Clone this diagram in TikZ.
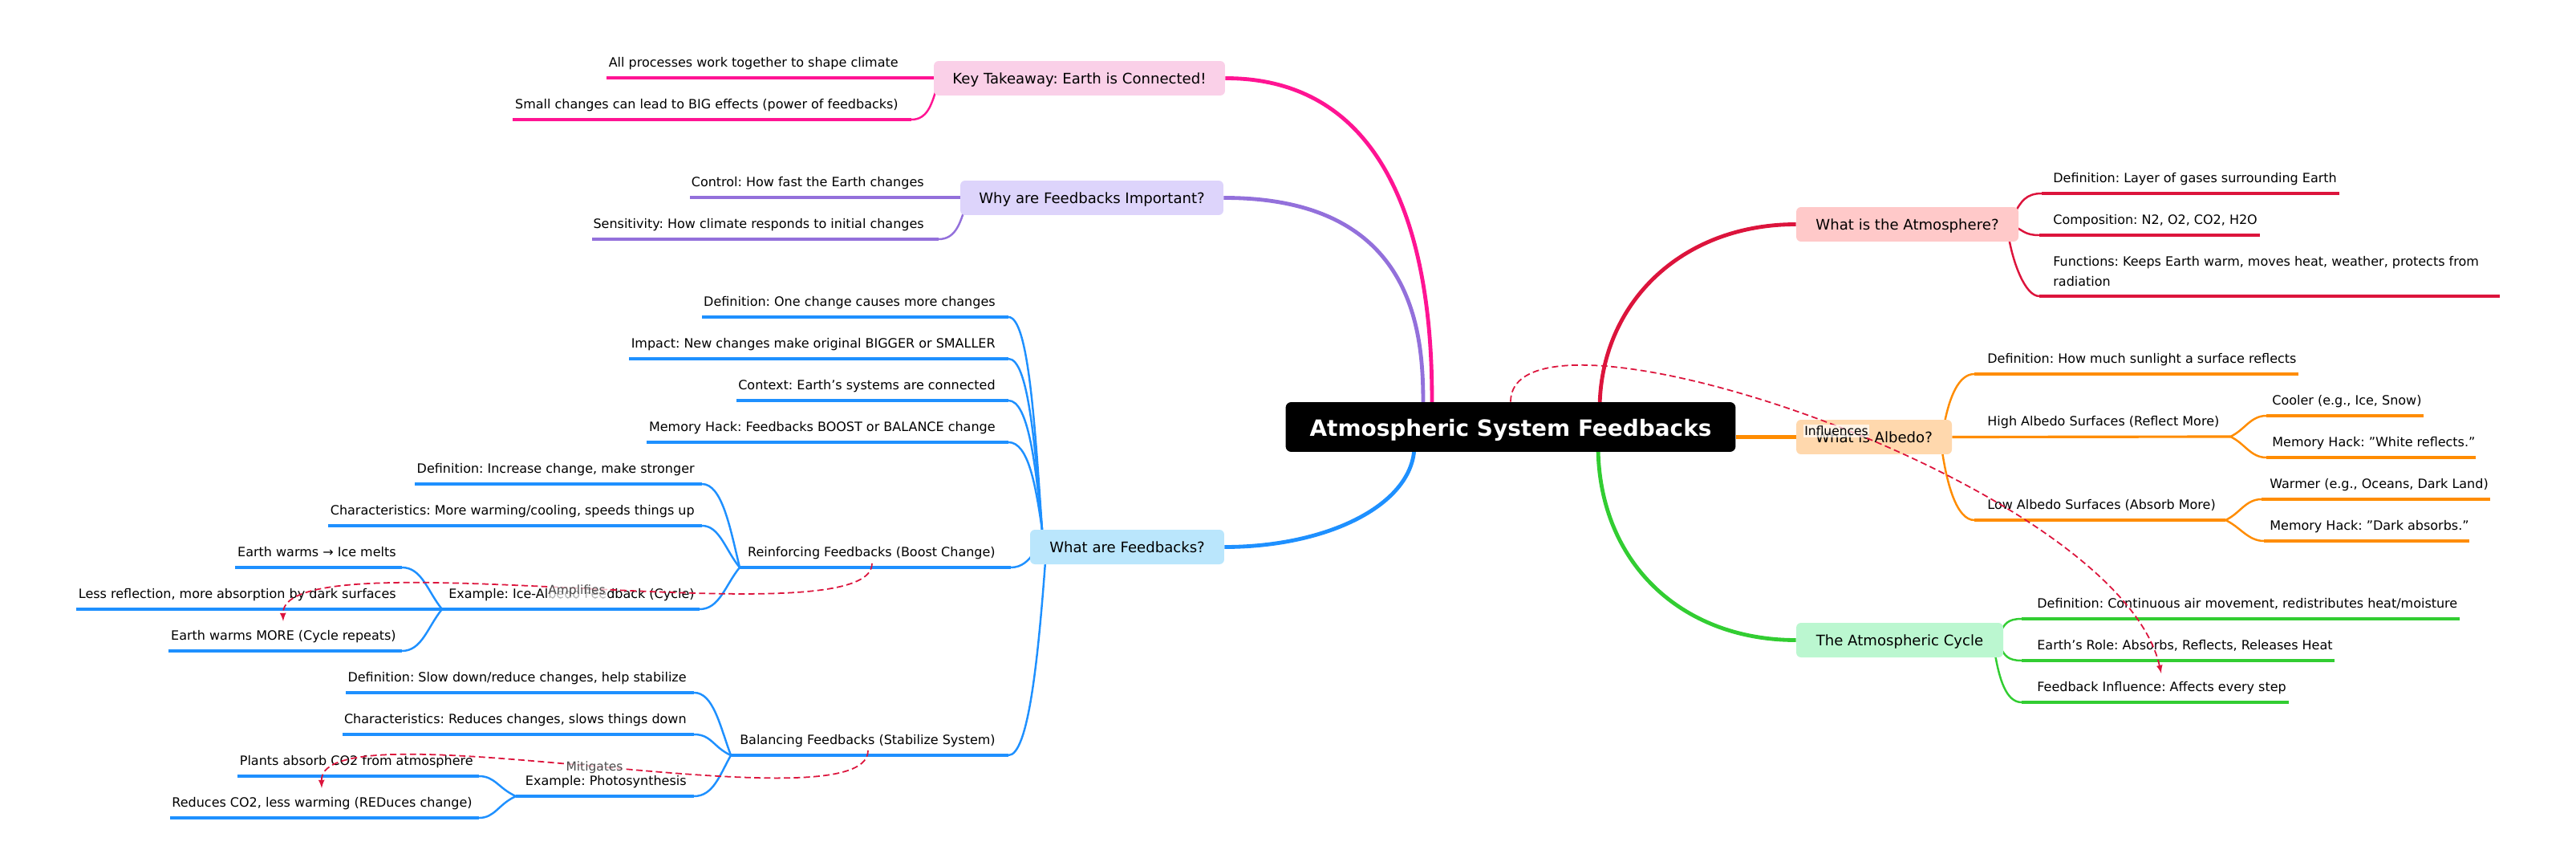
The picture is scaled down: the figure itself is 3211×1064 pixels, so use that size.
\documentclass[tikz,border=0pt]{standalone}
\usepackage{fontspec}
\setmainfont{DejaVu Sans}[Ligatures=ResetAll]
\usetikzlibrary{backgrounds}
\frenchspacing
\definecolor{pinkline}{HTML}{FF1493}
\definecolor{purpleline}{HTML}{9370DB}
\definecolor{blueline}{HTML}{1E90FF}
\definecolor{redline}{HTML}{DC143C}
\definecolor{orangeline}{HTML}{FF8C00}
\definecolor{greenline}{HTML}{32CD32}
\definecolor{pinkbox}{HTML}{FAD0E8}
\definecolor{purplebox}{HTML}{DDD4FB}
\definecolor{bluebox}{HTML}{BAE6FC}
\definecolor{redbox}{HTML}{FFC9C9}
\definecolor{orangebox}{HTML}{FFD8AD}
\definecolor{greenbox}{HTML}{BBF7D0}
\tikzset{
	leaffont/.style={font=\fontsize{9.1}{14.2}\selectfont},
	leafl/.style={leaffont, inner sep=0, anchor=base east, yshift=-1.3pt},
	leafr/.style={leaffont, inner sep=0, anchor=base west, yshift=-1.3pt},
	topic/.style={font=\fontsize{10.3}{13}\selectfont, inner sep=0, text height=9.4pt, text depth=1.7pt, rounded corners=0.12cm, minimum height=0.86cm},
	branch/.style={line width=2.75pt},
	stub/.style={line width=1.8pt},
	twig/.style={line width=1.4pt},
	crosslink/.style={->, >=latex, redline, line width=1pt, dash pattern=on 4.5pt off 2.5pt},
	linklabel/.style={font=\fontsize{8.8}{10}\selectfont, inner sep=1pt, fill=white, fill opacity=0.7, text opacity=1},
}
\newcommand{\twigline}[4]{
	\draw[stub, #1] (#2) -- (#3);
	\draw[twig, #1] (#3) .. controls #4;
}
\begin{document}
\begin{tikzpicture}[x=0.02cm, y=-0.02cm]
	\useasboundingbox (0, 0) rectangle (3211, 1064);
	% centre and topics
	\node[inner sep=0, fill=black, text=white, rounded corners=0.14cm, minimum width=11.22cm, minimum height=1.24cm, text height=15pt, text depth=2pt, font=\fontsize{15.9}{18}\selectfont\bfseries] (root) at (1883, 532) {Atmospheric System Feedbacks};
	\node[topic, fill=pinkbox, minimum width=7.26cm] (takeaway) at (1345.5, 97.5) {Key Takeaway: Earth is Connected!};
	\node[topic, fill=purplebox, minimum width=6.56cm] (important) at (1361, 246.5) {Why are Feedbacks Important?};
	\node[topic, fill=bluebox, minimum width=4.84cm] (feedbacks) at (1405, 681.5) {What are Feedbacks?};
	\node[topic, fill=redbox, minimum width=5.54cm] (atmosphere) at (2377.5, 279.5) {What is the Atmosphere?};
	\node[topic, fill=orangebox, minimum width=3.88cm] (albedo) at (2336, 544.5) {What is Albedo?};
	\node[topic, fill=greenbox, minimum width=5.16cm] (cycle) at (2368, 797.5) {The Atmospheric Cycle};
	% key takeaway
	\node[leafl] (ktone) at (1120, 81) {All processes work together to shape climate};
	\node[leafl] (kttwo) at (1120, 133) {Small changes can lead to BIG effects (power of feedbacks)};
	\coordinate (ktonea) at (756, 97);
	\coordinate (kttwoa) at (639, 149);
	\coordinate (kttwob) at (1136, 149);
	% why important
	\node[leafl] (whyone) at (1152, 230) {Control: How fast the Earth changes};
	\node[leafl] (whytwo) at (1152, 282) {Sensitivity: How climate responds to initial changes};
	\coordinate (whyonea) at (860, 246);
	\coordinate (whytwoa) at (738, 298);
	\coordinate (whytwob) at (1170, 298);
	% what are feedbacks
	\node[leafl] (fbone) at (1241, 379) {Definition: One change causes more changes};
	\node[leafl] (fbtwo) at (1241, 431) {Impact: New changes make original BIGGER or SMALLER};
	\node[leafl] (fbthree) at (1241, 483) {Context: Earth's systems are connected};
	\node[leafl] (fbfour) at (1241, 535) {Memory Hack: Feedbacks BOOST or BALANCE change};
	\node[leafl] (reinf) at (1241, 691) {Reinforcing Feedbacks (Boost Change)};
	\node[leafl] (bal) at (1241, 925) {Balancing Feedbacks (Stabilize System)};
	\node[leafl] (reone) at (866, 587) {Definition: Increase change, make stronger};
	\node[leafl] (retwo) at (866, 639) {Characteristics: More warming/cooling, speeds things up};
	\node[leafl] (reex) at (866, 743) {Example: Ice-Albedo Feedback (Cycle)};
	\node[leafl] (exone) at (494, 691) {Earth warms → Ice melts};
	\node[leafl] (extwo) at (494, 743) {Less reflection, more absorption by dark surfaces};
	\node[leafl] (exthree) at (494, 795) {Earth warms MORE (Cycle repeats)};
	\node[leafl] (balone) at (856, 847) {Definition: Slow down/reduce changes, help stabilize};
	\node[leafl] (baltwo) at (856, 899) {Characteristics: Reduces changes, slows things down};
	\node[leafl] (balex) at (856, 976) {Example: Photosynthesis};
	\node[leafl] (phone) at (590, 951) {Plants absorb CO2 from atmosphere};
	\node[leafl] (phtwo) at (589, 1003) {Reduces CO2, less warming (REDuces change)};
	\foreach \name/\x/\y in {fbonea/875/395, fbtwoa/784/447, fbthreea/918/499, fbfoura/806/551, reonea/517/603, retwoa/409/655, exonea/293/707, extwoa/95/759, exthreea/210/811, balonea/431/863, baltwoa/427/915, phonea/296/967, phtwoa/212/1019}
		\coordinate (\name) at (\x, \y);
	\coordinate (fbhub) at (1299, 660);
	\coordinate (rehub) at (922, 707);
	\coordinate (exhub) at (551, 759);
	\coordinate (balhub) at (911, 941);
	\coordinate (phhub) at (643, 992);
	% atmosphere
	\node[leafr] (atone) at (2559, 225) {Definition: Layer of gases surrounding Earth};
	\node[leafr] (attwo) at (2559, 277) {Composition: N2, O2, CO2, H2O};
	\node[leafr, anchor=west, align=left] (atthree) at (2559, 336) {Functions: Keeps Earth warm, moves heat, weather, protects from\\radiation};
	\coordinate (atoneb) at (2916, 241);
	\coordinate (attwob) at (2817, 293);
	\coordinate (atthreeb) at (3116, 369);
	% albedo
	\node[leafr] (alone) at (2477, 450) {Definition: How much sunlight a surface reflects};
	\node[leafr] (alhigh) at (2477, 528) {High Albedo Surfaces (Reflect More)};
	\node[leafr] (allow) at (2477, 632) {Low Albedo Surfaces (Absorb More)};
	\node[leafr] (hione) at (2832, 502) {Cooler (e.g., Ice, Snow)};
	\node[leafr] (hitwo) at (2832, 554) {Memory Hack: "White reflects."};
	\node[leafr] (loone) at (2829, 606) {Warmer (e.g., Oceans, Dark Land)};
	\node[leafr] (lotwo) at (2829, 658) {Memory Hack: "Dark absorbs."};
	\coordinate (aloneb) at (2865, 466);
	\coordinate (hihub) at (2780, 544);
	\coordinate (lohub) at (2774, 648);
	% cycle
	\node[leafr] (cyone) at (2539, 755) {Definition: Continuous air movement, redistributes heat/moisture};
	\node[leafr] (cytwo) at (2539, 807) {Earth's Role: Absorbs, Reflects, Releases Heat};
	\node[leafr] (cythree) at (2539, 859) {Feedback Influence: Affects every step};
	\begin{scope}[on background layer]
		\draw[branch, pinkline] (1785, 510) .. controls (1785, 420) and (1785, 97) .. (takeaway.east);
		\draw[branch, purpleline] (1774, 510) .. controls (1774, 430) and (1774, 246) .. (important.east);
		\draw[branch, blueline] (1763, 555) .. controls (1763, 628) and (1656, 681.5) .. (feedbacks.east);
		\draw[branch, redline] (1994, 510) .. controls (1994, 379) and (2095, 279.5) .. (atmosphere.west);
		\draw[branch, orangeline] (root.east |- albedo) -- (albedo.west);
		\draw[branch, greenline] (1992, 555) .. controls (1992, 700) and (2095, 797.5) .. (cycle.west);
		\draw[stub, pinkline] (ktonea) -- (takeaway.west |- ktonea);
		\twigline{pinkline}{kttwoa}{kttwob}{+(20, 0) and +(-6, 18) .. (1167, 112)}
		\draw[stub, purpleline] (whyonea) -- (important.west |- whyonea);
		\twigline{purpleline}{whytwoa}{whytwob}{+(20, 0) and +(-6, 18) .. (1202, 262)}
		\twigline{blueline}{fbonea}{1257, 395}{+(25, 0) and +(-9, -130) .. (fbhub)}
		\twigline{blueline}{fbtwoa}{1257, 447}{+(25, 0) and +(-9, -105) .. (fbhub)}
		\twigline{blueline}{fbthreea}{1257, 499}{+(25, 0) and +(-8, -80) .. (fbhub)}
		\twigline{blueline}{fbfoura}{1257, 551}{+(25, 0) and +(-8, -55) .. (fbhub)}
		\twigline{blueline}{rehub}{1260, 707}{+(14, 0) and +(-6, 8) .. (1288, 690)}
		\twigline{blueline}{balhub}{1257, 941}{+(25, 0) and +(-9, 120) .. (1303, 700)}
		\twigline{blueline}{reonea}{875, 603}{+(25, 0) and +(-12, -50) .. (rehub)}
		\twigline{blueline}{retwoa}{875, 655}{+(22, 0) and +(-18, -22) .. (rehub)}
		\twigline{blueline}{exhub}{872, 759}{+(25, 0) and +(-18, 22) .. (rehub)}
		\twigline{blueline}{exonea}{501, 707}{+(25, 0) and +(-18, -22) .. (exhub)}
		\draw[stub, blueline] (extwoa) -- (exhub);
		\twigline{blueline}{exthreea}{501, 811}{+(25, 0) and +(-18, 22) .. (exhub)}
		\twigline{blueline}{balonea}{865, 863}{+(24, 0) and +(-14, -38) .. (balhub)}
		\twigline{blueline}{baltwoa}{865, 915}{+(22, 0) and +(-22, -10) .. (balhub)}
		\twigline{blueline}{phhub}{865, 992}{+(24, 0) and +(-14, 25) .. (balhub)}
		\twigline{blueline}{phonea}{597, 967}{+(20, 0) and +(-22, -10) .. (phhub)}
		\twigline{blueline}{phtwoa}{597, 1019}{+(20, 0) and +(-22, 10) .. (phhub)}
		\twigline{redline}{atoneb}{2545, 241}{+(-20, 0) and +(7, -12) .. (2512, 264)}
		\twigline{redline}{attwob}{2542, 293}{+(-18, 0) and +(10, 4) .. (2512, 283)}
		\twigline{redline}{atthreeb}{2542, 369}{+(-18, 0) and +(5, 30) .. (2504, 296)}
		\twigline{orangeline}{aloneb}{2461, 466}{+(-20, 0) and +(6, -30) .. (2424, 526)}
		\draw[stub, orangeline] (albedo.east) -- (hihub);
		\twigline{orangeline}{3021, 518}{2825, 518}{+(-20, 0) and +(18, -8) .. (hihub)}
		\twigline{orangeline}{3086, 570}{2825, 570}{+(-20, 0) and +(18, 8) .. (hihub)}
		\twigline{orangeline}{lohub}{2461, 648}{+(-22, 0) and +(6, 40) .. (2421, 563)}
		\twigline{orangeline}{3104, 622}{2819, 622}{+(-20, 0) and +(18, -8) .. (lohub)}
		\twigline{orangeline}{3078, 674}{2822, 674}{+(-20, 0) and +(18, 8) .. (lohub)}
		\twigline{greenline}{3066, 771}{2520, 771}{+(-18, 0) and +(5, -8) .. (2494, 786)}
		\twigline{greenline}{2910, 823}{2520, 823}{+(-18, 0) and +(5, 8) .. (2494, 808)}
		\twigline{greenline}{2853, 875}{2520, 875}{+(-20, 0) and +(5, 28) .. (2487, 816)}
	\end{scope}
	% cross links
	\coordinate (influ) at (2694, 839);
	\coordinate (amplif) at (353, 774);
	\coordinate (mitig) at (401, 982);
	\draw[crosslink] (root.north) .. controls (1883, 350) and (2640, 600) .. (influ);
	\draw[crosslink] (1087, 702) .. controls (1087, 800) and (350, 665) .. (amplif);
	\draw[crosslink] (1082, 935) .. controls (1082, 1035) and (398, 875) .. (mitig);
	\node[linklabel] (influlabel) at (2289, 537) {Influences};
	\node[linklabel, text=black!70] (amplabel) at (719, 736) {Amplifies};
	\node[linklabel, text=black!70] (mitlabel) at (741, 956) {Mitigates};
\end{tikzpicture}
\end{document}
